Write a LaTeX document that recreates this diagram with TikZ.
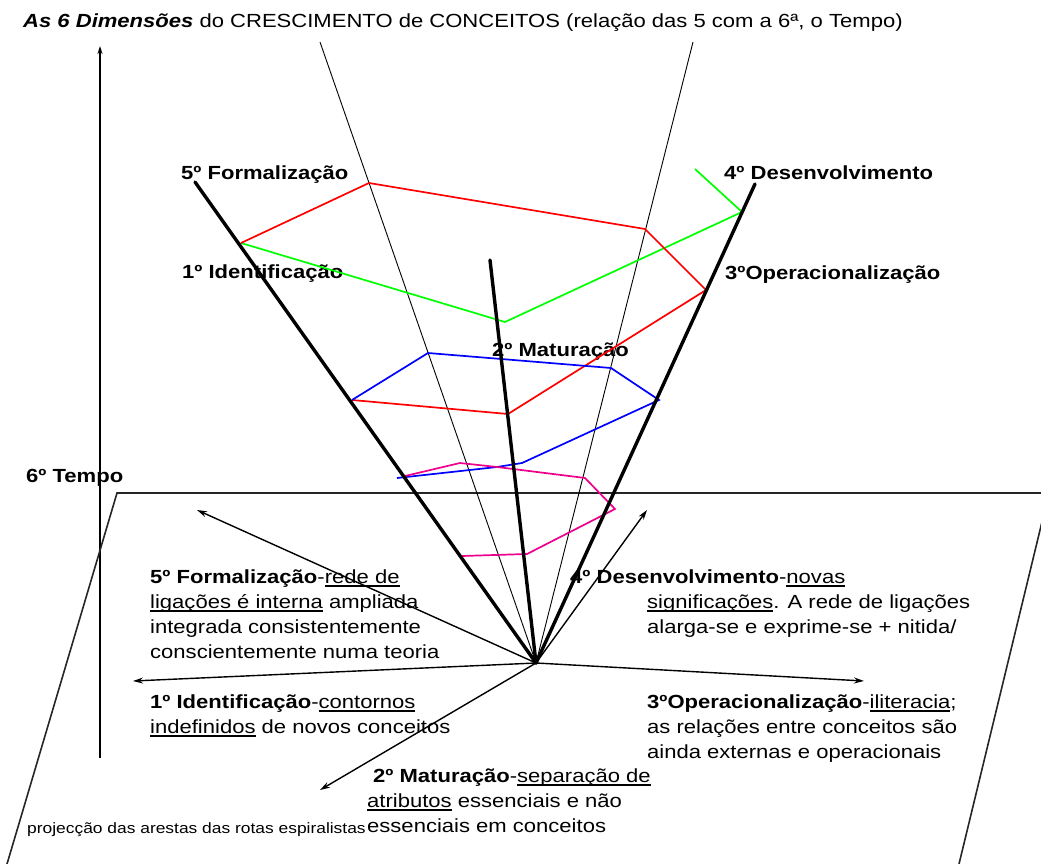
\documentclass[tikz,border=0pt]{standalone}
\usepackage{fontspec}
\setmainfont{Liberation Sans}[FakeStretch=1.16]
\usetikzlibrary{arrows.meta}
\newcommand\ulx[1]{\setbox0\hbox{#1}\rlap{\rule[-3.5pt]{\wd0}{1.3pt}}\box0\relax}
\tikzset{
  lbl/.style={inner sep=0pt, anchor=base west, font=\fontsize{19}{25}\selectfont},
  lblb/.style={lbl, font=\fontsize{19}{25}\selectfont\bfseries},
  small/.style={inner sep=0pt, anchor=base west, font=\fontsize{15}{18}\selectfont},
  thickax/.style={line width=3.4pt, line cap=round},
  thinax/.style={line width=0.9pt},
  plane/.style={line width=1.6pt, black!85},
  proj/.style={line width=1.4pt, -{Stealth[length=10pt,width=6pt]}},
  spir/.style={line width=1.7pt},
}
\begin{document}
\begin{tikzpicture}[x=1pt,y=-1pt]
\useasboundingbox (0,0) rectangle (1041,864);
\clip (0,0) rectangle (1041,864);
% texts
\node[lbl] (title) at (23,28) {\textbf{\textit{As 6 Dimensões}} do CRESCIMENTO de CONCEITOS (relação das 5 com a 6ª, o Tempo)};
\node[lblb] (l5) at (181,179) {5º Formalização};
\node[lblb] (l4) at (724,179) {4º Desenvolvimento};
\node[lblb] (l1) at (182,278) {1º Identificação};
\node[lblb] (l3) at (725,279) {3ºOperacionalização};
\node[lblb] (l2) at (492,356) {2º Maturação};
\node[lblb] (l6) at (26,482) {6º Tempo};
% block 5
\node[lbl] (b5a) at (150,583) {\textbf{5º Formalização}-\ulx{rede de}};
\node[lbl] (b5b) at (150,608) {\ulx{ligações é interna} ampliada};
\node[lbl] (b5c) at (150,633) {integrada consistentemente};
\node[lbl] (b5d) at (150,658) {conscientemente numa teoria};
% block 4
\node[lbl] (b4a) at (570,583) {\textbf{4º Desenvolvimento}-\ulx{novas}};
\node[lbl] (b4b) at (647,608) {\ulx{significações}. A rede de ligações};
\node[lbl] (b4c) at (647,633) {alarga-se e exprime-se + nitida/};
% block 1
\node[lbl] (b1a) at (150,708) {\textbf{1º Identificação}-\ulx{contornos}};
\node[lbl] (b1b) at (150,733) {\ulx{indefinidos} de novos conceitos};
% block 3
\node[lbl] (b3a) at (647,708) {\textbf{3ºOperacionalização}-\ulx{iliteracia};};
\node[lbl] (b3b) at (647,733) {as relações entre conceitos são};
\node[lbl] (b3c) at (647,758) {ainda externas e operacionais};
% block 2
\node[lbl] (b2a) at (373,782) {\textbf{2º Maturação}-\ulx{separação de}};
\node[lbl] (b2b) at (367,807) {\ulx{atributos} essenciais e não};
\node[lbl] (b2c) at (367,832) {essenciais em conceitos};
\node[small] (proj) at (27,833) {projecção das arestas das rotas espiralistas};
% coordinates
\coordinate (O) at (536,663);
\coordinate (A5) at (195,182);
\coordinate (A4) at (755,184);
\coordinate (A2) at (490,260);
\coordinate (T1) at (320,42);
\coordinate (T2) at (693,42);
\coordinate (Vb) at (100,758);
\coordinate (Vt) at (100,46);
\coordinate (P1) at (7,864);
\coordinate (P2) at (117,493);
\coordinate (P3) at (1049,493);
\coordinate (P4) at (959,864);
\coordinate (E5) at (197,510);
\coordinate (E1) at (133,681);
\coordinate (E2) at (320,790);
\coordinate (E3) at (864,681);
\coordinate (E4) at (647,510);
% time axis
\draw[line width=1.4pt, -{Stealth[length=8pt,width=5pt]}] (Vb) -- (Vt);
% plane
\draw[plane] (P1) -- (P2) -- (P3) -- (P4);
% thin axes
\draw[thinax] (T1) -- (O);
\draw[thinax] (T2) -- (O);
% spiral
\draw[spir,green] (695,169) -- (742,212) -- (505,322) -- (241,243);
\draw[spir,red] (241,243) -- (369,183) -- (645,229) -- (706,290) -- (508,414) -- (352,400);
\draw[spir,blue] (352,400) -- (428,353) -- (611,368) -- (659,400) -- (522,463) -- (497,467) -- (397,478);
\draw[spir,magenta] (405,476) -- (460,463) -- (497,467) -- (585,478) -- (615,509) -- (527,554) -- (462,556);
% thick axes
\draw[thickax] (A5) -- (O);
\draw[thickax] (A4) -- (O);
\draw[thickax] (A2) -- (O);
% projections
\draw[proj] (O) -- (E5);
\draw[proj] (O) -- (E1);
\draw[proj] (O) -- (E2);
\draw[proj] (O) -- (E3);
\draw[proj] (O) -- (E4);
\end{tikzpicture}
\end{document}
